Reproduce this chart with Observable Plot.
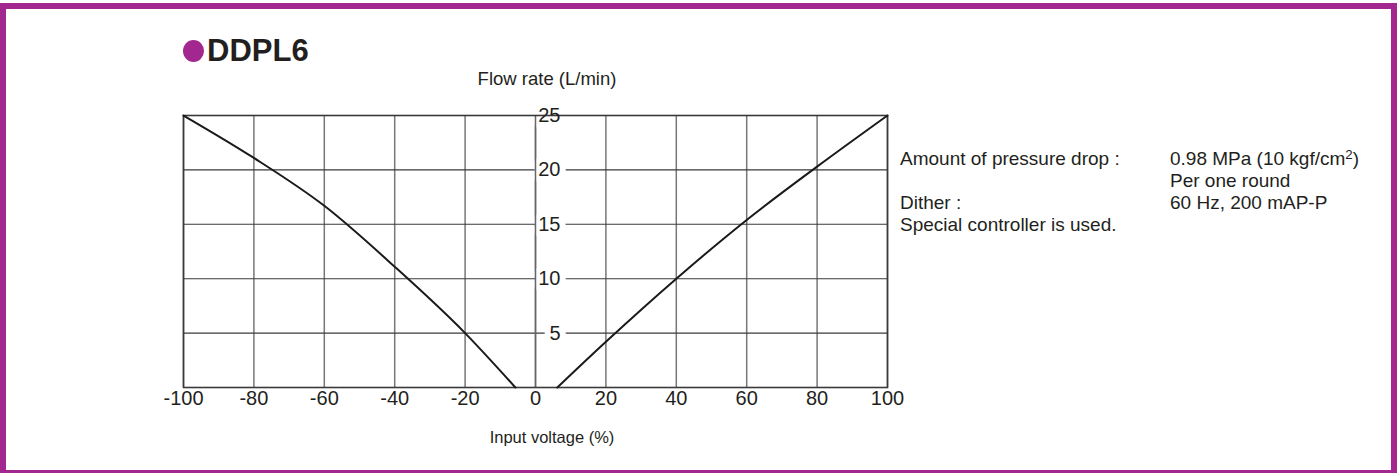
<!DOCTYPE html>
<html>
<head>
<meta charset="utf-8">
<script src="https://cdn.jsdelivr.net/npm/d3@7"></script>
<script src="https://cdn.jsdelivr.net/npm/@observablehq/plot@0.6"></script>
<style>
  html, body { margin: 0; padding: 0; background: #fff; }
  #wrap { position: relative; width: 1400px; height: 473px; overflow: hidden; background: #fff;
          font-family: "Liberation Sans", Arial, Helvetica, sans-serif; color: #231f20; }
  #frame { position: absolute; left: 0; top: 3px; width: 1397px; height: 473px; box-sizing: border-box;
           border: 6px solid #a2288f; z-index: 3; pointer-events: none; }
  .t { position: absolute; white-space: nowrap; line-height: 1; z-index: 2; }
  #chart { position: absolute; left: 0; top: 0; z-index: 1; }
  #dot { position: absolute; left: 183px; top: 40px; width: 21px; height: 22px; border-radius: 50%;
         background: #a2288f; z-index: 2; }
</style>
</head>
<body>
<div id="wrap">
  <div id="chart"></div>
  <div id="frame"></div>
  <div id="dot"></div>
</div>
<script>
// ---- data ----
const xTicks = [-100, -80, -60, -40, -20, 0, 20, 40, 60, 80, 100];
const yGrid = [0, 5, 10, 15, 20, 25];
const yLabels = [5, 10, 15, 20, 25];
const negVoltage = [-100, -80, -60, -40, -20, -5.7];
const negFlow = [25, 21.1, 16.7, 11.1, 5, 0];
const posVoltage = [6.2, 20, 40, 60, 80, 100];
const posFlow = [0, 4.2, 10, 15.4, 20.3, 25];

const title = "DDPL6";
const yTitle = "Flow rate (L/min)";
const xTitle = "Input voltage (%)";

const negData = negVoltage.map((v, i) => ({v, f: negFlow[i]}));
const posData = posVoltage.map((v, i) => ({v, f: posFlow[i]}));
const yLab = yLabels.map(f => ({v: 0, f}));

const chart = Plot.plot({
  width: 1400,
  height: 473,
  marginLeft: 183,
  marginRight: 513,
  marginTop: 115,
  marginBottom: 86,
  x: {domain: [-100, 100], axis: null},
  y: {domain: [0, 25], axis: null},
  style: {background: "transparent", fontFamily: "'Liberation Sans', Arial, Helvetica, sans-serif", fontSize: "20px", color: "#231f20", overflow: "visible"},
  marks: [
    Plot.ruleX(xTicks, {stroke: "#777", strokeWidth: 1.5}),
    Plot.ruleY(yGrid, {stroke: "#3a3a3a", strokeWidth: 1.1}),
    Plot.text(yLab, {x: "v", y: "f", text: d => String(d.f), textAnchor: "end", dx: 25, fill: "none", stroke: "white", strokeWidth: 12, strokeLinejoin: "round", fontSize: 20}),
    Plot.ruleX([0], {stroke: "#666", strokeWidth: 1.5}),
    Plot.frame({stroke: "#3a3a3a", strokeWidth: 1.6}),
    Plot.line(negData, {x: "v", y: "f", curve: "monotone-x", stroke: "#1a1a1a", strokeWidth: 2}),
    Plot.line(posData, {x: "v", y: "f", curve: "monotone-x", stroke: "#1a1a1a", strokeWidth: 2}),
    Plot.text(yLab, {x: "v", y: "f", text: d => String(d.f), textAnchor: "end", dx: 25, fill: "#231f20", fontSize: 20}),
    Plot.axisX(xTicks, {tickSize: 0, tickPadding: 3, tickFormat: d => String(d), label: null, fontSize: 20, fill: "#231f20"})
  ]
});
document.getElementById("chart").appendChild(chart);

// ---- HTML text overlays ----
const wrap = document.getElementById("wrap");
function addText(txt, left, baseline, size, opts = {}) {
  const el = document.createElement("div");
  el.className = "t";
  el.innerHTML = txt;
  el.style.fontSize = size + "px";
  el.style.top = (baseline - 0.8465 * size) + "px";
  if (opts.center) { el.style.left = left + "px"; el.style.transform = "translateX(-50%)"; }
  else el.style.left = left + "px";
  if (opts.bold) el.style.fontWeight = "bold";
  wrap.appendChild(el);
  return el;
}
addText(title, 207, 61, 31, {bold: true});
addText(yTitle, 547, 86, 18.5, {center: true});
addText(xTitle, 552, 443, 16.5, {center: true});
addText("Amount of pressure drop :", 900, 165, 19);
addText("0.98 MPa (10 kgf/cm<sup style=\"font-size:0.7em;vertical-align:0.45em;line-height:0\">2</sup>)", 1170, 165, 19);
addText("Per one round", 1170, 187, 19);
addText("Dither :", 900, 209, 19);
addText("60 Hz, 200 mAP-P", 1170, 209, 19);
addText("Special controller is used.", 900, 231, 19);
</script>
</body>
</html>
